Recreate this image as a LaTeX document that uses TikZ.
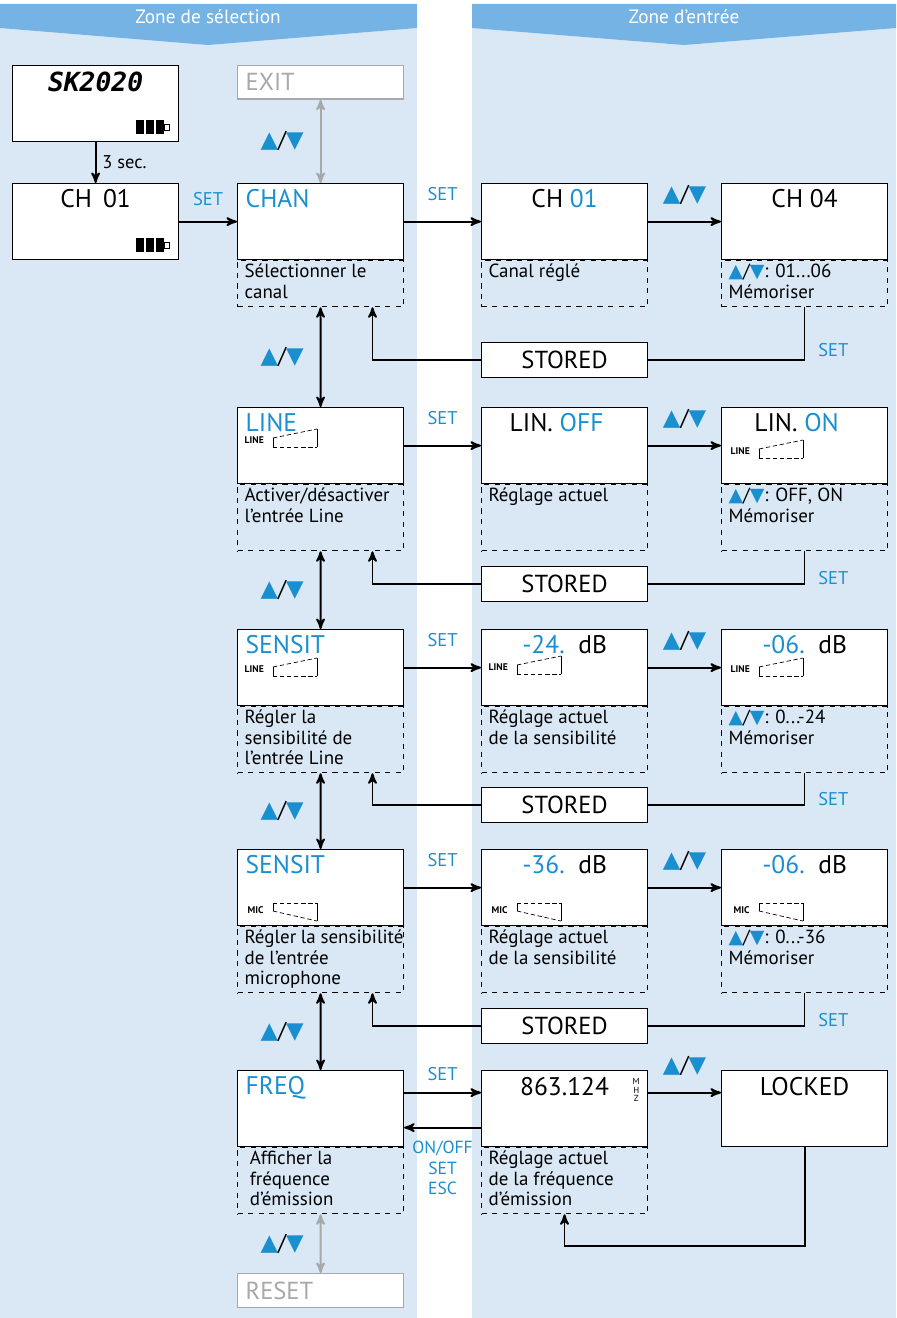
\documentclass[tikz,border=0pt]{standalone}
\usepackage{fontspec}
\setmainfont{PT Sans}
\newfontfamily\symfont{DejaVu Sans}
\newfontfamily\lcdfont{DejaVu Sans Mono}
\usepackage{tikz}
\usetikzlibrary{arrows}

\definecolor{sblue}{HTML}{1A8FD0}
\definecolor{headblue}{HTML}{74B3E3}
\definecolor{panelblue}{HTML}{DAE8F5}
\definecolor{greyc}{HTML}{A8A8A8}

\newcommand\ud{{\symfont\textcolor{sblue}{▲}}/{\symfont\textcolor{sblue}{▼}}}
\newcommand\bud{{\fontsize{13}{14}\selectfont\ud}}
\newcommand\blu[1]{\textcolor{sblue}{#1}}
\newcommand\dtext[2]{\parbox[b][#1][t]{3.32cm}{\raggedright\leftskip=4pt\vspace{2pt}#2}}

% LINE bar icon: #1 = display, (#2,#3) = offset of the tag
\newcommand\lineicon[3]{%
  \coordinate (o) at ([shift={(#2,#3)}]#1.north west);
  \node[tag, anchor=west] at (o) {LINE};
  \draw[thin] ([shift={(29,-2)}]o) -- ([shift={(29,7)}]o);
  \draw[thin] ([shift={(73,-11)}]o) -- ([shift={(73,7)}]o);
  \draw[thin, dash pattern=on 2.5pt off 1.5pt] ([shift={(29,7)}]o) -- ([shift={(73,7)}]o);
  \draw[thin, dash pattern=on 2.5pt off 1.5pt] ([shift={(29,-2)}]o) -- ([shift={(73,-11)}]o);}
% MIC bar icon
\newcommand\micicon[3]{%
  \coordinate (o) at ([shift={(#2,#3)}]#1.north west);
  \node[tag, anchor=west] at (o) {MIC};
  \draw[thin] ([shift={(26,-7)}]o) -- ([shift={(26,1)}]o);
  \draw[thin] ([shift={(70,-7)}]o) -- ([shift={(70,11)}]o);
  \draw[thin, dash pattern=on 2.5pt off 1.5pt] ([shift={(26,-7)}]o) -- ([shift={(70,-7)}]o);
  \draw[thin, dash pattern=on 2.5pt off 1.5pt] ([shift={(26,1)}]o) -- ([shift={(70,11)}]o);}
% battery, #1 = box
\newcommand\battery[1]{%
  \fill ([shift={(-43,-8)}]#1.south east) rectangle ([shift={(-15,-22)}]#1.south east);
  \draw[white, line width=0.8pt] ([shift={(-34,-8)}]#1.south east) -- ([shift={(-34,-22)}]#1.south east)
    ([shift={(-24,-8)}]#1.south east) -- ([shift={(-24,-22)}]#1.south east);
  \draw[line width=0.5pt] ([shift={(-15,-12)}]#1.south east) rectangle ([shift={(-10,-18)}]#1.south east);}

\begin{document}
\begin{tikzpicture}[x=0.02cm, y=-0.02cm, >=stealth', thick,
    disp/.style={draw, fill=white, line width=0.7pt, minimum width=3.32cm, minimum height=1.52cm,
                 anchor=north west, inner sep=0},
    desc/.style={draw, dashed, line width=0.6pt, anchor=north west, inner sep=0,
                 font=\fontsize{10.8}{11.6}\selectfont},
    stor/.style={disp, minimum height=0.7cm, font=\fontsize{14}{15}\selectfont},
    grey box/.style={disp, draw=greyc, text=greyc, minimum height=0.67cm, text width=3.0cm,
                 align=left, font=\fontsize{14}{15}\selectfont},
    big/.style={font=\fontsize{14.5}{15}\selectfont, inner sep=0},
    tag/.style={font=\fontsize{5.5}{6}\selectfont\bfseries, inner sep=0},
    key/.style={font=\fontsize{10.5}{12}\selectfont, text=sblue},
    arr/.style={->, line width=1.1pt},
    both/.style={<->, line width=1.1pt}]

  \useasboundingbox (0,0) rectangle (896,1318);

  % panels and headers
  \fill[panelblue] (0,4) rectangle (417,1318);
  \fill[panelblue] (472,4) rectangle (896,1318);
  \fill[headblue] (0,4) -- (417,4) -- (417,28) -- (208,45) -- (0,28) -- cycle;
  \fill[headblue] (472,4) -- (896,4) -- (896,28) -- (684,45) -- (472,28) -- cycle;
  \node[white, font=\fontsize{11}{13}\selectfont] (hsel) at (208,17) {Zone de sélection};
  \node[white, font=\fontsize{11}{13}\selectfont] (hent) at (684,17) {Zone d’entrée};

  % start displays
  \node[disp] (sk) at (12,65) {};
  \node[big, anchor=north, font=\lcdfont\fontsize{15}{16}\selectfont\bfseries\itshape] (sktxt) at ([shift={(0,6)}]sk.north) {SK2020};
  \battery{sk}
  \node[disp] (ch) at (12,183) {};
  \node[big, anchor=north] (chtxt) at ([shift={(0,6)}]ch.north) {CH\, 01};
  \battery{ch}

  % selection column
  \node[grey box] (exit) at (237,65) {EXIT};
  \node[disp] (chan) at (237,183) {};
  \node[disp] (line) at (237,407) {};
  \node[disp] (senl) at (237,629) {};
  \node[disp] (senm) at (237,849) {};
  \node[disp] (freq) at (237,1070) {};
  \node[grey box, minimum height=0.68cm] (reset) at (237,1273) {RESET};

  \node[big, anchor=north west] at ([shift={(8,6)}]chan.north west) {\blu{CHAN}};
  \node[big, anchor=north west] at ([shift={(8,6)}]line.north west) {\blu{LINE}};
  \lineicon{line}{7}{33}
  \node[big, anchor=north west] at ([shift={(8,6)}]senl.north west) {\blu{SENSIT}};
  \lineicon{senl}{7}{40}
  \node[big, anchor=north west] at ([shift={(8,6)}]senm.north west) {\blu{SENSIT}};
  \micicon{senm}{10}{61}
  \node[big, anchor=north west] at ([shift={(8,6)}]freq.north west) {\blu{FREQ}};

  \node[desc] (chand) at (chan.south west) {\dtext{0.92cm}{Sélectionner le\\canal}};
  \node[desc] (lined) at (line.south west) {\dtext{1.32cm}{Activer/désactiver\\l’entrée Line}};
  \node[desc] (senld) at (senl.south west) {\dtext{1.32cm}{Régler la\\sensibilité de\\l’entrée Line}};
  \node[desc] (senmd) at (senm.south west) {\dtext{1.32cm}{Régler la sensibilité\\de l’entrée\\microphone}};
  \node[desc] (freqd) at (freq.south west) {\dtext{1.32cm}{\hspace*{3pt}Afficher la\\\hspace*{3pt}fréquence\\\hspace*{3pt}d’émission}};

  % entry column: current values
  \node[disp] (cha) at (481,183) {};
  \node[disp] (lina) at (481,407) {};
  \node[disp] (senla) at (481,629) {};
  \node[disp] (senma) at (481,849) {};
  \node[disp] (freqa) at (481,1070) {};
  \node[big, anchor=north] at ([shift={(0,6)}]cha.north) {CH \blu{01}};
  \node[big, anchor=north] at ([shift={(-8,6)}]lina.north) {LIN. \blu{OFF}};
  \node[big, anchor=north] at ([shift={(0,6)}]senla.north) {\blu{-24.}\ \ dB};
  \lineicon{senla}{7}{38}
  \node[big, anchor=north] at ([shift={(0,6)}]senma.north) {\blu{-36.}\ \ dB};
  \micicon{senma}{10}{61}
  \node[big, anchor=north] at ([shift={(0,7)}]freqa.north) {863.124};
  \node[font=\fontsize{5}{5}\selectfont, align=center, inner sep=0] at ([shift={(-12,20)}]freqa.north east) {M\\H\\Z};

  \node[desc] (chad) at (cha.south west) {\dtext{0.92cm}{Canal réglé}};
  \node[desc] (linad) at (lina.south west) {\dtext{1.32cm}{Réglage actuel}};
  \node[desc] (senlad) at (senla.south west) {\dtext{1.32cm}{Réglage actuel\\de la sensibilité}};
  \node[desc] (senmad) at (senma.south west) {\dtext{1.32cm}{Réglage actuel\\de la sensibilité}};
  \node[desc] (freqad) at (freqa.south west) {\dtext{1.32cm}{Réglage actuel\\de la fréquence\\d'émission}};

  % entry column: new values
  \node[disp] (chb) at (721,183) {};
  \node[disp] (linb) at (721,407) {};
  \node[disp] (senlb) at (721,629) {};
  \node[disp] (senmb) at (721,849) {};
  \node[disp] (lock) at (721,1070) {};
  \node[big, anchor=north] at ([shift={(0,6)}]chb.north) {CH 04};
  \node[big, anchor=north] at ([shift={(-8,6)}]linb.north) {LIN. \blu{ON}};
  \lineicon{linb}{9}{44}
  \node[big, anchor=north] at ([shift={(0,6)}]senlb.north) {\blu{-06.}\ \ dB};
  \lineicon{senlb}{9}{40}
  \node[big, anchor=north] at ([shift={(0,6)}]senmb.north) {\blu{-06.}\ \ dB};
  \micicon{senmb}{12}{61}
  \node[big, anchor=north] at ([shift={(0,7)}]lock.north) {LOCKED};

  \node[desc] (chbd) at (chb.south west) {\dtext{0.92cm}{\ud: 01...06\\Mémoriser}};
  \node[desc] (linbd) at (linb.south west) {\dtext{1.32cm}{\ud: OFF, ON\\Mémoriser}};
  \node[desc] (senlbd) at (senlb.south west) {\dtext{1.32cm}{\ud: 0...-24\\Mémoriser}};
  \node[desc] (senmbd) at (senmb.south west) {\dtext{1.32cm}{\ud: 0...-36\\Mémoriser}};

  % STORED boxes
  \node[stor] (st1) at (481,342) {STORED};
  \node[stor] (st2) at (481,566) {STORED};
  \node[stor] (st3) at (481,787) {STORED};
  \node[stor] (st4) at (481,1008) {STORED};

  % connectors
  \draw[arr] (sk) -- (ch) node[midway, right, font=\fontsize{10.5}{12}\selectfont] {3 sec.};
  \draw[arr] (ch) -- (chan) node[midway, above=5pt, key] {SET};
  \draw[both, greyc] (exit) -- (chan) node[midway, left=0.2cm, text=black] {\bud};
  \draw[both] (chand) -- (line) node[midway, left=0.2cm] {\bud};
  \draw[both] (lined) -- (senl) node[midway, left=0.2cm] {\bud};
  \draw[both] (senld) -- (senm) node[midway, left=0.2cm] {\bud};
  \draw[both] (senmd) -- (freq) node[midway, left=0.2cm] {\bud};
  \draw[both, greyc] (freqd) -- (reset) node[midway, left=0.2cm, text=black] {\bud};

  \foreach \s/\a/\b in {chan/cha/chb, line/lina/linb, senl/senla/senlb, senm/senma/senmb}{
    \draw[arr] (\s) -- (\a) node[midway, above=8pt, key] {SET};
    \draw[arr] (\a) -- (\b) node[midway, above=6pt] {\bud};
  }
  \draw[arr] ([yshift=0.32cm]freq.east) -- ([yshift=0.32cm]freqa.west) node[midway, above=3pt, key] {SET};
  \draw[arr] ([yshift=-0.38cm]freqa.west) -- ([yshift=-0.38cm]freq.east)
    node[midway, below=4pt, key, align=center, font=\fontsize{10}{11.5}\selectfont] {ON/OFF\\SET\\ESC};
  \draw[arr] ([yshift=0.32cm]freqa.east) -- ([yshift=0.32cm]lock.west) node[midway, above=6pt] {\bud};
  \draw[arr] (lock.south) -- ++(0,99) -| (freqad.south);

  \foreach \b/\t/\d in {chbd/st1/chand, linbd/st2/lined, senlbd/st3/senld, senmbd/st4/senmd}{
    \draw[line width=1.1pt] (\b.south) |- (\t.east) node[pos=0.4, right=4pt, key] {SET};
    \draw[arr] (\t.west) -| ([xshift=1.04cm]\d.south);
  }
\end{tikzpicture}
\end{document}
